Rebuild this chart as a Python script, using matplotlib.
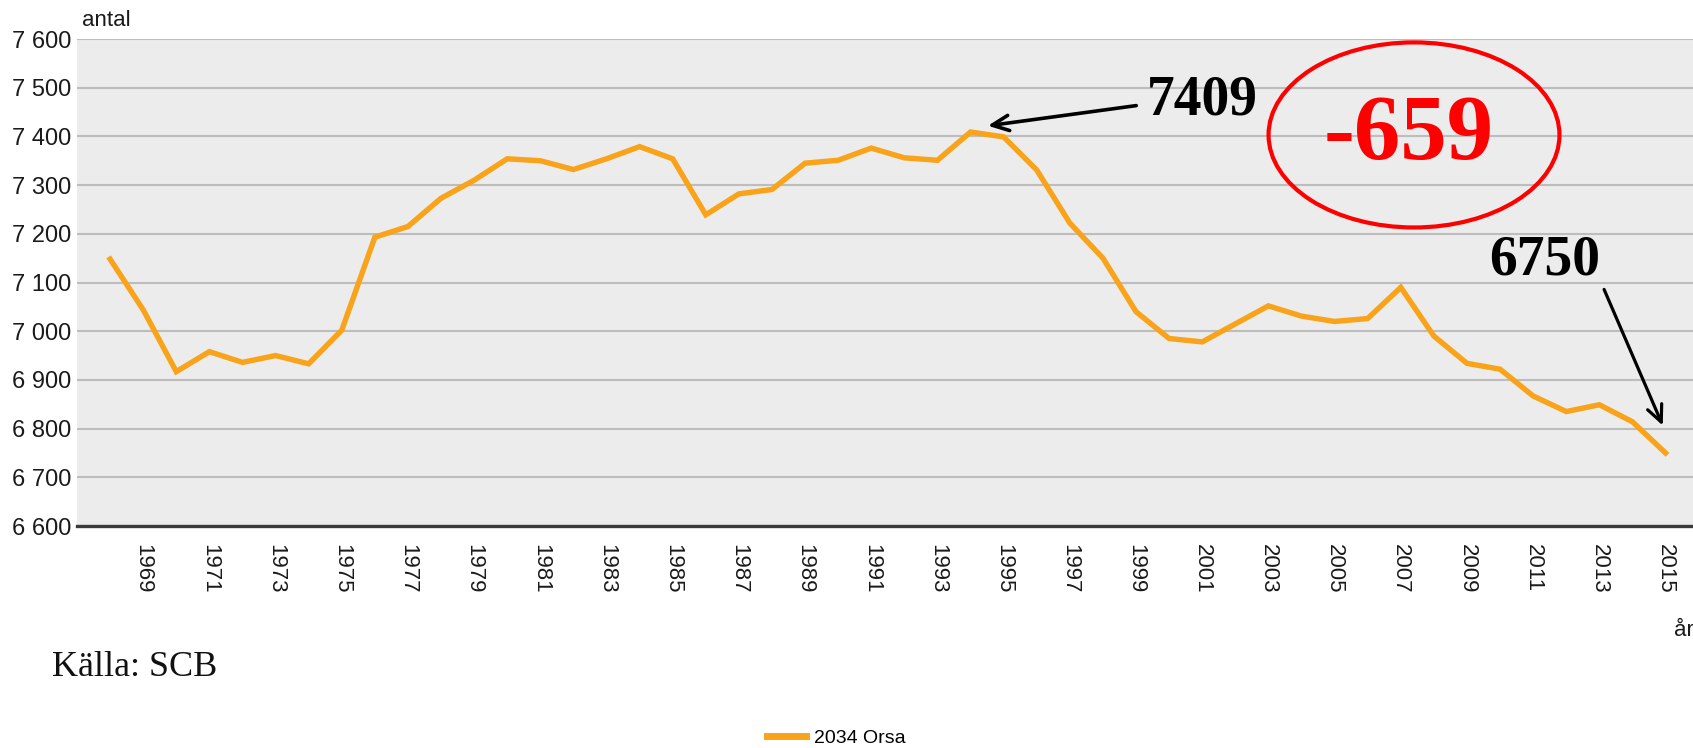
import matplotlib
matplotlib.use("Agg")
import matplotlib.pyplot as plt
from matplotlib.patches import Ellipse
from matplotlib.lines import Line2D
from matplotlib.ticker import FuncFormatter

# ---- data ----
years = list(range(1968, 2016))
population = [7148, 7044, 6917, 6958, 6936, 6950, 6933, 7002, 7193, 7215,
              7273, 7310, 7354, 7350, 7332, 7354, 7379, 7354, 7239, 7282,
              7291, 7345, 7351, 7376, 7356, 7351, 7409, 7399, 7331, 7222,
              7150, 7040, 6985, 6978, 7015, 7052, 7031, 7020, 7026, 7090,
              6990, 6934, 6922, 6867, 6835, 6849, 6814, 6750]
series_name = "2034 Orsa"
xtick_years = list(range(1969, 2016, 2))
yticks = list(range(6600, 7601, 100))
y_label = "antal"
x_label = "år"
source = "Källa: SCB"

W, H = 1693, 748
fig = plt.figure(figsize=(W / 100, H / 100), dpi=100)
ax = fig.add_axes([77 / W, (H - 526) / H, (W - 77) / W, (526 - 39) / H])

orange = "#F8A31A"
ax.set_facecolor("#ececec")
ax.plot(years, population, color=orange, lw=3.9, solid_joinstyle="miter", zorder=3)

ax.set_xlim(1967.0, 2015.83)
ax.set_ylim(6600, 7600)
ax.set_yticks(yticks)
ax.yaxis.set_major_formatter(FuncFormatter(lambda v, p: f"{int(v):,}".replace(",", " ")))
ax.set_xticks(xtick_years)
ax.set_xticklabels([str(y) for y in xtick_years], rotation=270, va="top", ha="center")
ax.grid(axis="y", color="#bdbdbd", lw=1.5, zorder=1)
ax.set_axisbelow(True)
for s in ["left", "right", "top"]:
    ax.spines[s].set_visible(False)
ax.spines["bottom"].set_color("#3a3a3a")
ax.spines["bottom"].set_linewidth(2.4)
ax.spines["bottom"].set_zorder(4)
ax.tick_params(axis="both", length=0, labelsize=16, labelcolor="#1a1a1a",
               labelfontfamily="Liberation Sans")
ax.tick_params(axis="y", pad=4, labelsize=17)
ax.tick_params(axis="x", pad=13)

fig.text(82 / W, 1 - 31 / H, y_label, fontsize=16, family="Liberation Sans",
         color="#1a1a1a", va="bottom", ha="left")
fig.text(1674 / W, 1 - 630 / H, x_label, fontsize=16, family="Liberation Sans",
         color="#1a1a1a", va="center", ha="left")
fig.text(52 / W, 1 - 668 / H, source, fontsize=26, family="Liberation Serif",
         color="#111111", va="center", ha="left")

# ---- annotations ----
peak_i = population.index(max(population))
peak_val = population[peak_i]
last_val = population[-1]
diff = last_val - peak_val

ax.annotate("", xy=(1994.44, 7421), xytext=(1999.09, 7464),
            arrowprops=dict(arrowstyle="->,head_length=1.2,head_width=0.55",
                            color="black", lw=2.6), zorder=5)
ax.text(2001.0, 7474, str(peak_val), fontsize=40, family="Liberation Serif",
        weight="bold", ha="center", va="center", color="black", zorder=5)

ax.annotate("", xy=(2014.95, 6801), xytext=(2013.11, 7091),
            arrowprops=dict(arrowstyle="->,head_length=1.2,head_width=0.55",
                            color="black", lw=2.3), zorder=5)
ax.text(2011.36, 7146, str(last_val), fontsize=40, family="Liberation Serif",
        weight="bold", ha="center", va="center", color="black", zorder=5)

ax.add_patch(Ellipse((2007.4, 7403), width=8.79, height=380, fill=False,
                     edgecolor="#ff0000", lw=3.0, zorder=5))
ax.text(2007.25, 7400, f"{diff}", fontsize=67, family="Liberation Serif",
        weight="bold", ha="center", va="center", color="#ff0000", zorder=5)

# ---- legend ----
handle = Line2D([0], [0], color=orange, lw=5)
fig.legend([handle], [series_name], loc="center", bbox_to_anchor=(836 / W, 1 - 738 / H),
           frameon=False, handlelength=2.0, handletextpad=0.4,
           prop={"family": "Liberation Sans", "size": 14})

fig.savefig("out.png", dpi=100)
